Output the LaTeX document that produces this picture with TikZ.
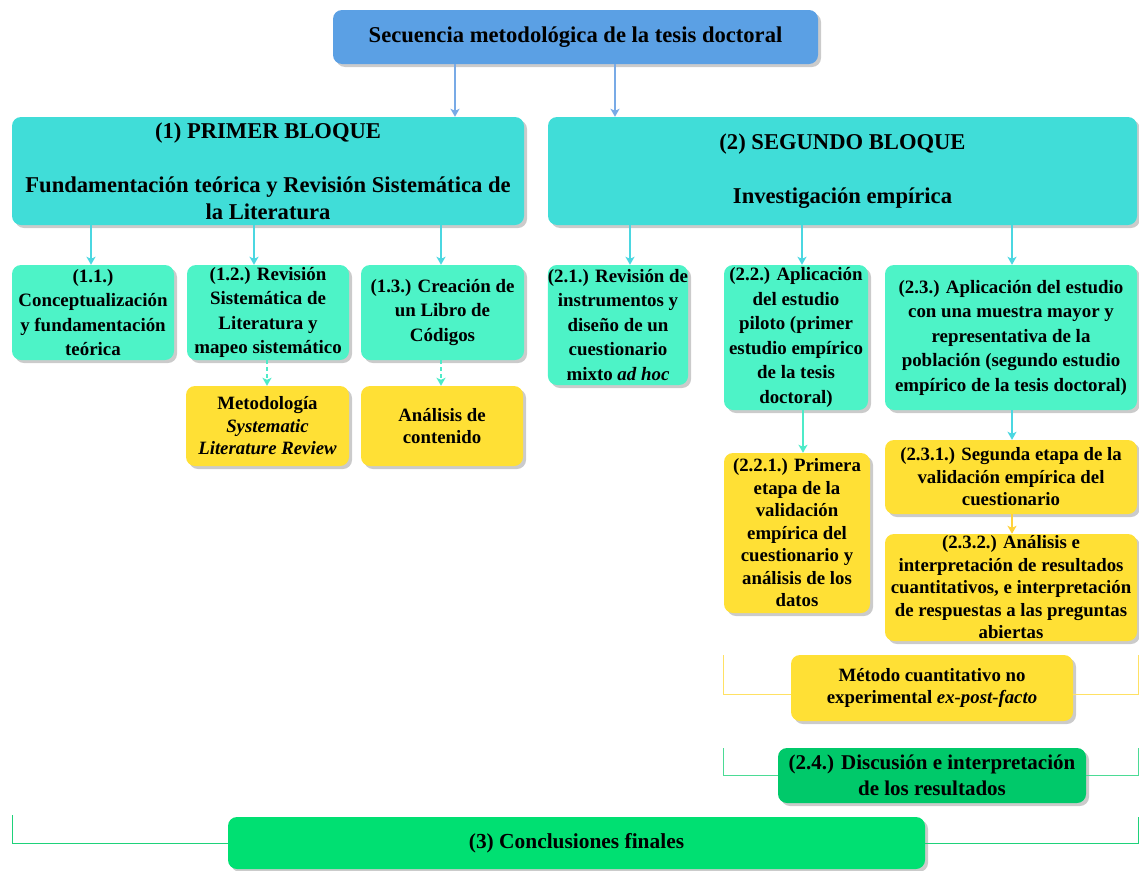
\documentclass[tikz,border=0pt]{standalone}
\usepackage{fontspec}
\setmainfont{Liberation Serif}
\usetikzlibrary{arrows.meta,shadows,calc}
\definecolor{titleblue}{HTML}{5BA0E4}
\definecolor{blockcyan}{HTML}{40DDD8}
\definecolor{lvltwo}{HTML}{4DF3C7}
\definecolor{ylw}{HTML}{FFE035}
\definecolor{grnA}{HTML}{00C96A}
\definecolor{grnB}{HTML}{00E072}
\definecolor{arrblue}{HTML}{78AAE6}
\definecolor{arrcyan}{HTML}{4BD7E1}
\definecolor{arraqua}{HTML}{4DEBC8}
\definecolor{brYel}{HTML}{FFE164}
\definecolor{arrYel}{HTML}{FFD23C}
\definecolor{brGrn}{HTML}{1ED27A}
\tikzset{
  box/.style={rounded corners=9pt, inner sep=0pt, align=center,
    drop shadow={shadow xshift=3pt, shadow yshift=-3pt, fill=black!45, opacity=0.45},
    font=\bfseries\fontsize{18.9}{24.5}\selectfont},
  bigbox/.style={box, font=\bfseries\fontsize{22.6}{27}\selectfont},
  ybox/.style={box, fill=ylw, font=\bfseries\fontsize{18.8}{22.5}\selectfont},
  gbox/.style={box, fill=lvltwo},
  arr/.style={-{Stealth[length=8pt,width=9pt,inset=2pt]}, line width=1.4pt},
  brk/.style={line width=0.9pt},
}
\begin{document}
\begin{tikzpicture}[x=1pt,y=-1pt]
\useasboundingbox (0,0) rectangle (1139,870);
% top
\node[bigbox, fill=titleblue, minimum width=485pt, minimum height=54pt] (title) at (575.5,37) {Secuencia metodológica de la tesis doctoral};
\node[bigbox, fill=blockcyan, minimum width=512pt, minimum height=108pt] (b1) at (268,171) {(1) PRIMER BLOQUE\\[27pt]Fundamentación teórica y Revisión Sistemática de\\la Literatura};
\node[bigbox, fill=blockcyan, minimum width=589pt, minimum height=108pt] (b2) at (842.5,171) {(2) SEGUNDO BLOQUE\\[27pt]Investigación empírica};
% level 2
\node[gbox, minimum width=162pt, minimum height=95pt] (n11) at (93,312.5) {(1.1.)\\Conceptualización\\y fundamentación\\teórica};
\node[gbox, minimum width=162pt, minimum height=95pt] (n12) at (268,312.5) {(1.2.) Revisión\\Sistemática de\\Literatura y\\mapeo sistemático};
\node[gbox, minimum width=163pt, minimum height=95pt] (n13) at (442.5,312.5) {(1.3.) Creación de\\un Libro de\\Códigos};
\node[gbox, minimum width=140pt, minimum height=120pt] (n21) at (618,325) {(2.1.) Revisión de\\instrumentos y\\diseño de un\\cuestionario\\mixto \textit{ad hoc}};
\node[gbox, minimum width=144pt, minimum height=145pt] (n22) at (796,337.5) {(2.2.) Aplicación\\del estudio\\piloto (primer\\estudio empírico\\de la tesis\\doctoral)};
\node[gbox, minimum width=252pt, minimum height=145pt] (n23) at (1011,337.5) {(2.3.) Aplicación del estudio\\con una muestra mayor y\\representativa de la\\población (segundo estudio\\empírico de la tesis doctoral)};
% yellow
\node[ybox, minimum width=163pt, minimum height=80pt] (m12) at (267.5,426) {Metodología\\\textit{Systematic}\\\textit{Literature Review}};
\node[ybox, minimum width=162pt, minimum height=80pt] (m13) at (442,426) {Análisis de\\contenido};
\node[ybox, minimum width=146pt, minimum height=160pt] (n221) at (797,533) {(2.2.1.) Primera\\etapa de la\\validación\\empírica del\\cuestionario y\\análisis de los\\datos};
\node[ybox, minimum width=252pt, minimum height=74pt] (n231) at (1011,477) {(2.3.1.) Segunda etapa de la\\validación empírica del\\cuestionario};
\node[ybox, minimum width=252pt, minimum height=107pt] (n232) at (1011,587.5) {(2.3.2.) Análisis e\\interpretación de resultados\\cuantitativos, e interpretación\\de respuestas a las preguntas\\abiertas};
\node[ybox, minimum width=282pt, minimum height=66pt] (met) at (932,688) {Método cuantitativo no\\experimental \textit{ex-post-facto}};
\node[box, fill=grnA, minimum width=308pt, minimum height=55pt, font=\bfseries\fontsize{21}{26}\selectfont] (n24) at (932,775.5) {(2.4.) Discusión e interpretación\\de los resultados};
\node[box, fill=grnB, minimum width=697pt, minimum height=52pt, font=\bfseries\fontsize{21.4}{26}\selectfont] (n3) at (576.5,843) {(3) Conclusiones finales};
% arrows
\draw[arr, arrblue] (title.south -| 455,0) -- (b1.north -| 455,0);
\draw[arr, arrblue] (title.south -| 615,0) -- (b2.north -| 615,0);
\draw[arr, arrcyan] (b1.south -| 91,0) -- (n11.north -| 91,0);
\draw[arr, arrcyan] (b1.south -| 254,0) -- (n12.north -| 254,0);
\draw[arr, arrcyan] (b1.south -| 441,0) -- (n13.north -| 441,0);
\draw[arr, arrcyan] (b2.south -| 630,0) -- (n21.north -| 630,0);
\draw[arr, arrcyan] (b2.south -| 802,0) -- (n22.north -| 802,0);
\draw[arr, arrcyan] (b2.south -| 1012,0) -- (n23.north -| 1012,0);
\draw[arr, arraqua, dash pattern=on 4pt off 3pt] (n12.south -| 267,0) -- (m12.north -| 267,0);
\draw[arr, arraqua, dash pattern=on 4pt off 3pt] (n13.south -| 441,0) -- (m13.north -| 441,0);
\draw[arr, arraqua] (n22.south -| 803,0) -- (n221.north -| 803,0);
\draw[arr, arrcyan] (n23.south -| 1012,0) -- (n231.north -| 1012,0);
\draw[arr, arrYel] (n231.south -| 1012,0) -- (n232.north -| 1012,0);
% brackets
\coordinate (mL) at (723,655);
\coordinate (mR) at (1138,655);
\draw[brk, brYel] (mL) |- ($(met.west)+(0,6)$);
\draw[brk, brYel] ($(met.east)+(0,6)$) -| (mR);
\coordinate (dL) at (723,748);
\coordinate (dR) at (1138,748);
\draw[brk, brGrn!80!white] (dL) |- (n24.west);
\draw[brk, brGrn!80!white] (n24.east) -| (dR);
\coordinate (cL) at (12,815);
\coordinate (cR) at (1138,817);
\draw[brk, brGrn] (cL) |- (n3.west);
\draw[brk, brGrn] (n3.east) -| (cR);
\end{tikzpicture}
\end{document}
